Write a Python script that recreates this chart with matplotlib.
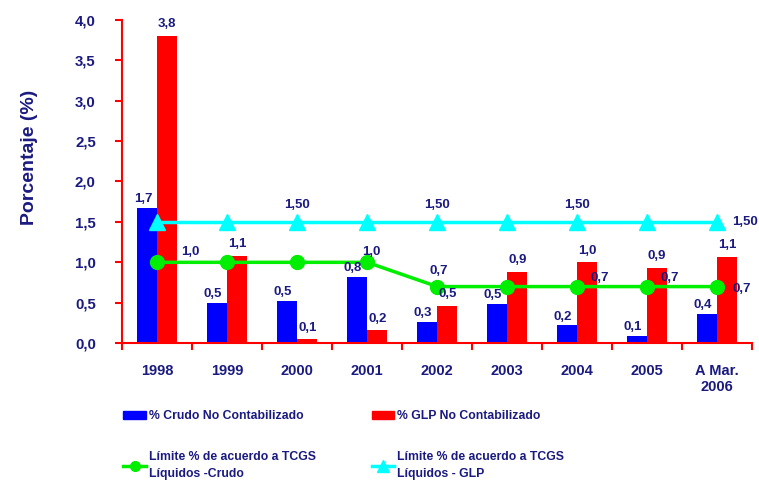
#!/usr/bin/env python3

import numpy as np
import matplotlib
matplotlib.use('Agg')
from matplotlib import pyplot as plt
from matplotlib.lines import Line2D
from matplotlib.patches import Patch
# --

years = ['1998', '1999', '2000', '2001', '2002', '2003', '2004', '2005', 'A Mar.\n2006']
crudo = [1.67, 0.50, 0.52, 0.82, 0.26, 0.49, 0.22, 0.09, 0.36]
glp = [3.80, 1.08, 0.05, 0.16, 0.46, 0.88, 1.00, 0.93, 1.07]
lim_crudo = [1.0, 1.0, 1.0, 1.0, 0.7, 0.7, 0.7, 0.7, 0.7]
lim_glp = [1.5, 1.5, 1.5, 1.5, 1.5, 1.5, 1.5, 1.5, 1.5]
crudo_lbl = ['1,7', '0,5', '0,5', '0,8', '0,3', '0,5', '0,2', '0,1', '0,4']
glp_lbl = ['3,8', '1,1', '0,1', '0,2', '0,5', '0,9', '1,0', '0,9', '1,1']
# --

navy = '#1a1a80'
red = '#ff0000'
plt.rcParams['font.family'] = ['Liberation Sans', 'DejaVu Sans']
plt.rcParams['font.weight'] = 'bold'

fig = plt.figure(figsize=(7.59, 4.82), dpi=100)
ax = fig.add_axes([0.161, 0.288, 0.830, 0.671])

x = np.arange(len(years))
w = 0.286
ax.bar(x - w/2, crudo, w, color='#0000ff', zorder=2)
ax.bar(x + w/2, glp, w, color=red, zorder=2)
ax.plot(x, lim_crudo, color='#00ee00', lw=2.5, marker='o', ms=10, zorder=3)
ax.plot(x, lim_glp, color='#00ffff', lw=2.5, marker='^', ms=11, zorder=3)

lbl = dict(color=navy, fontsize=9.5, fontweight='bold', ha='center', va='bottom')
for i in x:
  ax.annotate(crudo_lbl[i], (i - w/2, crudo[i]), xytext=(-3, 2), textcoords='offset points', **lbl)
  ax.annotate(glp_lbl[i], (i + w/2, glp[i]), xytext=(0, 4), textcoords='offset points', **lbl)

# labels of the limit lines
ax.annotate('1,0', (0, 1.0), xytext=(24, 3), textcoords='offset points', **lbl)
ax.annotate('1,0', (3, 1.0), xytext=(3, 3), textcoords='offset points', **lbl)
ax.annotate('0,7', (4, 0.7), xytext=(1, 7), textcoords='offset points', **lbl)
for i, dx, dy in [(6, 16, 6), (7, 16, 6), (8, 18, -2)]:
  ax.annotate('0,7', (i, 0.7), xytext=(dx, dy), textcoords='offset points',
              color=navy, fontsize=9.5, fontweight='bold', ha='center', va='center')
for i in [2, 4, 6]:
  ax.annotate('1,50', (i, 1.5), xytext=(0, 8), textcoords='offset points', **lbl)
ax.annotate('1,50', (8, 1.5), xytext=(20, 0), textcoords='offset points',
            color=navy, fontsize=9.5, fontweight='bold', ha='center', va='center')

ax.set_xlim(-0.5, len(years) - 0.5)
ax.set_ylim(0, 4.0)
ax.set_yticks(np.arange(0, 4.01, 0.5))
ax.set_yticklabels(['{:.1f}'.format(v).replace('.', ',') for v in np.arange(0, 4.01, 0.5)])
ax.set_xticks(x)
ax.set_xticklabels(years)
ax.set_xticks(np.arange(-0.5, len(years), 1), minor=True)
ax.tick_params(axis='x', which='major', length=0, pad=15, labelsize=10.5, labelcolor=navy)
ax.tick_params(axis='x', which='minor', length=5, width=1.5, color=red)
ax.tick_params(axis='y', length=5, width=1.5, color=red, pad=14, labelsize=10.8, labelcolor=navy)
for t in ax.get_xticklabels() + ax.get_yticklabels():
  t.set_fontweight('bold')
for s in ['top', 'right']:
  ax.spines[s].set_visible(False)
for s in ['left', 'bottom']:
  ax.spines[s].set_color(red)
  ax.spines[s].set_linewidth(1.5)
ax.set_ylabel('Porcentaje (%)', color=navy, fontsize=14, fontweight='bold')
ax.yaxis.set_label_coords(-0.134, 0.576)

handles = [Patch(color='#0000ff'),
           Line2D([], [], color='#00ee00', lw=2.5, marker='o', ms=7),
           Patch(color=red),
           Line2D([], [], color='#00ffff', lw=2.5, marker='^', ms=8)]
labels = ['% Crudo No Contabilizado', 'Límite % de acuerdo a TCGS\nLíquidos -Crudo',
          '% GLP No Contabilizado', 'Límite % de acuerdo a TCGS\nLíquidos - GLP']
leg = fig.legend(handles, labels, loc='upper left', bbox_to_anchor=(0.148, 0.172), ncol=2,
                 frameon=False, handlelength=1.85, handletextpad=0.25, columnspacing=4.55,
                 labelspacing=2.35, prop={'size': 8.8, 'weight': 'bold'})
for t in leg.get_texts():
  t.set_color(navy)
  t.set_linespacing(1.6)

plt.savefig('out.png', dpi=100)
plt.close('all')
